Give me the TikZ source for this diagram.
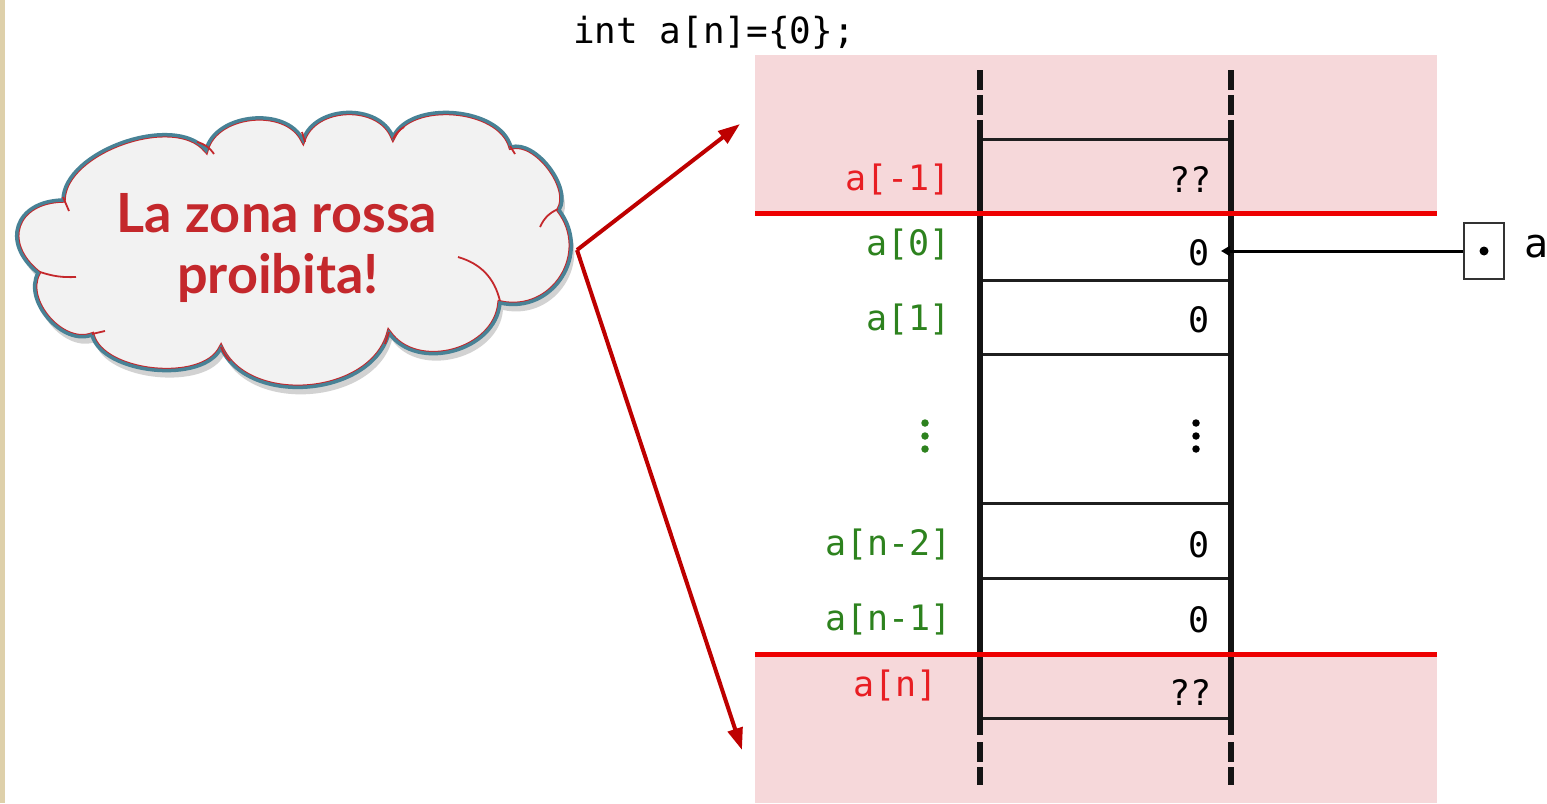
\documentclass[tikz,border=0pt]{standalone}
\usepackage{fontspec}
\setmainfont{Lato}
\newfontfamily\monofont{DejaVu Sans Mono}
\usetikzlibrary{arrows.meta,shadows}
\definecolor{pinkzone}{RGB}{246,216,218}
\definecolor{redline}{RGB}{238,0,0}
\definecolor{lblred}{RGB}{232,30,35}
\definecolor{lblgreen}{RGB}{45,130,30}
\definecolor{arrowred}{RGB}{190,0,0}
\definecolor{cloudtext}{RGB}{196,40,44}
\definecolor{cloudedge}{RGB}{72,130,150}
\definecolor{cloudfill}{RGB}{242,242,242}
\definecolor{tanstrip}{RGB}{222,208,170}
\begin{document}
\begin{tikzpicture}[x=1pt,y=-1pt,
  wall/.style={line width=5.5pt,black!92},
  cellline/.style={line width=3pt,black!88},
  lbl/.style={font=\monofont\fontsize{35}{40}\selectfont,anchor=east,inner sep=0pt},
  val/.style={font=\monofont\fontsize{35}{40}\selectfont,anchor=east,inner sep=0pt},
  zline/.style={line width=5pt,redline},
  callarrow/.style={line width=4pt,arrowred,-{Triangle[length=22pt,width=15pt]}},
  puffarc/.style={cloudtext,line width=1.8pt},
  vdot/.style={circle,inner sep=0pt,minimum size=7.5pt},
  cloudtxt/.style={font=\fontsize{54}{60}\bfseries\selectfont,text=cloudtext,anchor=base,inner sep=0pt},
]
\useasboundingbox (0,0) rectangle (1547,803);
\fill[white] (0,0) rectangle (1547,803);
\fill[tanstrip] (0,0) rectangle (5,803);

% pink forbidden zones
\fill[pinkzone] (755,55) rectangle (1437,213);
\fill[pinkzone] (755,654) rectangle (1437,803);

% code line
\node[font=\monofont\fontsize{36}{40}\selectfont,anchor=base west,inner sep=0pt] (code) at (573,43) {int a[n]=\{0\};};

% cell separators
\foreach \yy in {139,280,354,503,578,718}
  \draw[cellline] (980,\yy) -- (1231,\yy);

% walls
\foreach \xx in {980,1231}{
  \draw[wall] (\xx,70) -- (\xx,90);
  \draw[wall] (\xx,95) -- (\xx,115);
  \draw[wall] (\xx,120) -- (\xx,735);
  \draw[wall] (\xx,742) -- (\xx,762);
  \draw[wall] (\xx,767) -- (\xx,785);
}

% red boundary lines
\draw[zline] (755,213) -- (1437,213);
\draw[zline] (755,654) -- (1437,654);

% labels
\node[lbl,text=lblred] (lm1) at (951,180) {a[-1]};
\node[lbl,text=lblgreen] (l0) at (951,245) {a[0]};
\node[lbl,text=lblgreen] (l1) at (951,320) {a[1]};
\node[lbl,text=lblgreen] (ln2) at (952,545) {a[n-2]};
\node[lbl,text=lblgreen] (ln1) at (952,620) {a[n-1]};
\node[lbl,text=lblred] (ln) at (938,686) {a[n]};
\foreach \yy in {423,436,449}{
  \node[vdot,fill=lblgreen] at (925,\yy) {};
  \node[vdot,fill=black] at (1196,\yy) {};
}

% values
\node[val] (vm1) at (1212,180) {??};
\node[val] (v0) at (1210,253) {0};
\node[val] (v1) at (1210,320) {0};
\node[val] (vn2) at (1210,545) {0};
\node[val] (vn1) at (1210,620) {0};
\node[val] (vn) at (1212,693) {??};

% pointer a
\node[draw=black!80,line width=2pt,minimum width=40pt,minimum height=56pt,inner sep=0pt] (ptr) at (1484,251) {};
\fill (ptr.center) circle (4.5pt);
\node[font=\monofont\fontsize{40}{44}\selectfont,anchor=base west,inner sep=0pt] (ptrname) at (1524,257) {a};
\coordinate (tip) at (1221,251);
\draw[line width=3pt,-{Triangle[length=9pt,width=10pt]}] (ptr.west) -- (tip);

% cloud
\def\cloudpath{(63,200) to[bend left=70,looseness=0.83] (206,150)
  to[bend left=70,looseness=1.0] (303,140)
  to[bend left=70,looseness=1.05] (393,137)
  to[bend left=70,looseness=0.9] (511,147)
  to[bend left=70,looseness=0.83] (559,210)
  to[bend left=70,looseness=1.27] (500,303)
  to[bend left=70,looseness=1.08] (389,333)
  to[bend left=70,looseness=1.0] (221,348)
  to[bend left=70,looseness=0.8] (92,335)
  to[bend left=70,looseness=0.98] (38,273)
  to[bend left=70,looseness=1.6] (63,200) -- cycle}
\path[fill=cloudfill,drop shadow={opacity=0.35,shadow xshift=3pt,shadow yshift=-7pt}] \cloudpath;
\begin{scope}
  \clip \cloudpath;
  \draw[cloudtext,line width=5.5pt] \cloudpath;
\end{scope}
\draw[cloudedge,line width=3.5pt] \cloudpath;
% inner puff arcs
\draw[puffarc] (197,142) to[bend left=20] (214,154);
\draw[puffarc] (302,132) to (305,142);
\draw[puffarc] (404,127) to[bend right=15] (393,139);
\draw[puffarc] (510,146) to (515,154);
\draw[puffarc] (558,209) to[bend right=20] (540,227);
\draw[puffarc] (458,257) to[bend left=30] (500,301);
\draw[puffarc] (389,332) to (385,344);
\draw[puffarc] (221,347) to[bend right=10] (230,361);
\draw[puffarc] (92,334) to (105,331);
\draw[puffarc] (40,272) to[bend right=10] (76,277);
\draw[puffarc] (63,197) to (69,211);

\node[cloudtxt] (t1) at (277,232) {La zona rossa};
\node[cloudtxt] (t2) at (278,293) {proibita!};

% call-out arrows
\coordinate (co) at (577,250);
\coordinate (up) at (740,124);
\coordinate (down) at (742,750);
\draw[callarrow] (co) -- (up);
\draw[callarrow] (co) -- (down);
\end{tikzpicture}
\end{document}
